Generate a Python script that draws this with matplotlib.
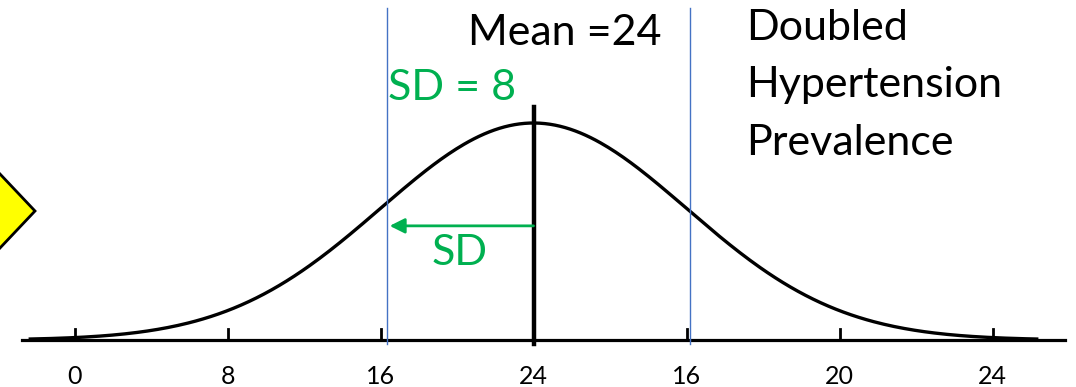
import numpy as np
import matplotlib.pyplot as plt
from matplotlib.patches import Polygon

# tick positions (in SD units from the mean) and their printed labels
tick_pos = [-3, -2, -1, 0, 1, 2, 3]
tick_labels = ['0', '8', '16', '24', '16', '20', '24']
sd_lines = [-0.96, 1.02]
mean_pos = 0.0
title_lines = ['Doubled', 'Hypertension', 'Prevalence']

green = '#00B050'
blue = '#4472C4'
plt.rcParams['font.family'] = ['Lato', 'DejaVu Sans']

fig = plt.figure(figsize=(10.76, 3.87), dpi=100)
ax = fig.add_axes([0, 0, 1, 1])
# 1 x unit = 153 px, 1 y unit = 217 px (curve height)
ax.set_xlim(-533.5 / 153, (1076 - 533.5) / 153)
ax.set_ylim(-47 / 217, 340 / 217)
ax.axis('off')

x = np.linspace(-3.3, 3.3, 400)
y = np.exp(-x ** 2 / 2)
ax.plot(x, y, color='black', lw=2.4, solid_capstyle='butt')

# baseline with ticks
ax.plot([-511.5 / 153, 531.5 / 153], [0, 0], color='black', lw=2.3)
for t, lab in zip(tick_pos, tick_labels):
    ax.plot([t, t], [0, 0.05], color='black', lw=2)
    ax.text(t, -0.17, lab, ha='center', va='center', fontsize=18)

# mean line and SD lines
ax.plot([mean_pos, mean_pos], [-0.02, 1.075], color='black', lw=3.2)
for s in sd_lines:
    ax.plot([s, s], [-0.02, 1.53], color=blue, lw=1)

# SD arrow
ax.annotate('', xy=(sd_lines[0] + 0.02, 0.526), xytext=(mean_pos, 0.526),
            arrowprops=dict(arrowstyle='-|>,head_length=0.9,head_width=0.45',
                            color=green, lw=2, shrinkA=0, shrinkB=0))
ax.text(-0.663, 0.346, 'SD', color=green, fontsize=31, ha='left', va='baseline')

ax.text(-0.428, 1.359, 'Mean =24', fontsize=31, ha='left', va='baseline')
ax.text(-0.951, 1.106, 'SD = 8', color=green, fontsize=31, ha='left', va='baseline')
for i, line in enumerate(title_lines):
    ax.text(1.389, 1.382 - i * 0.264, line, fontsize=31, ha='left', va='baseline')

# yellow diamond at the left edge
pts = np.array([(-37, 211), (0, 174), (35, 211), (0, 248)], dtype=float)
pts[:, 0] = (pts[:, 0] - 533.5) / 153
pts[:, 1] = (340 - pts[:, 1]) / 217
diamond = Polygon(pts, closed=True, facecolor='#FFFF00', edgecolor='black', lw=2)
ax.add_patch(diamond)

fig.savefig('out.png', dpi=100)
